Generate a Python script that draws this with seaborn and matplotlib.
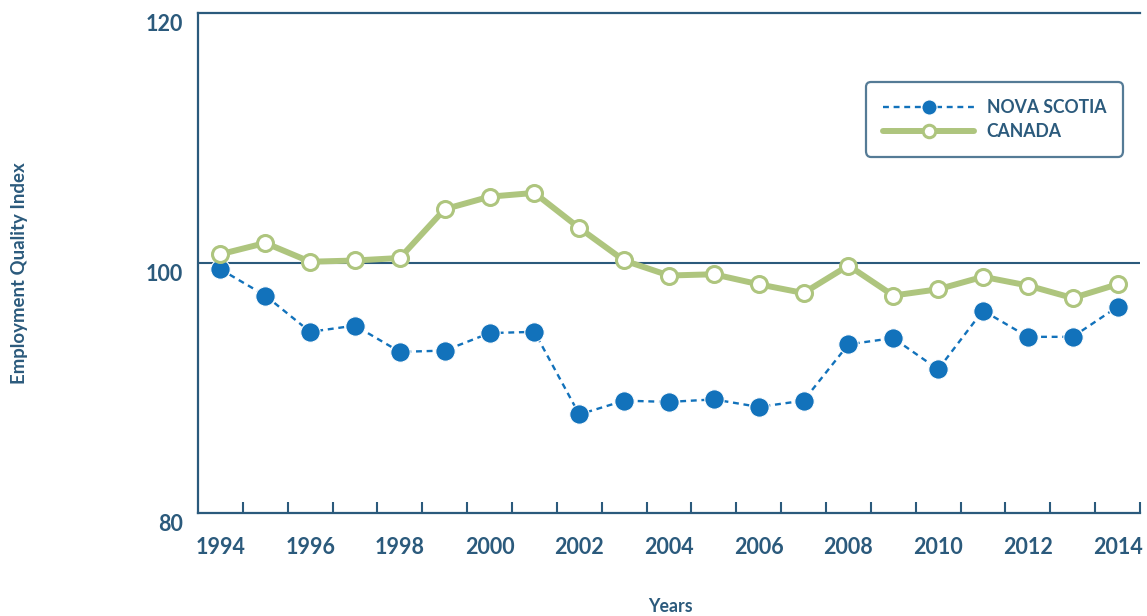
import matplotlib
matplotlib.use("Agg")
import matplotlib.pyplot as plt
from matplotlib.transforms import ScaledTranslation
import seaborn as sns
import pandas as pd

years = list(range(1994, 2015))
nova_scotia = [99.5, 97.4, 94.5, 95.0, 92.9, 93.0, 94.4, 94.5, 87.9, 89.0,
               88.9, 89.1, 88.5, 89.0, 93.5, 94.0, 91.5, 96.2, 94.1, 94.1, 96.5]
canada = [100.7, 101.6, 100.1, 100.2, 100.4, 104.3, 105.3, 105.6, 102.8, 100.2,
          99.0, 99.1, 98.3, 97.6, 99.8, 97.4, 97.9, 98.9, 98.2, 97.2, 98.3]
series_names = ["NOVA SCOTIA", "CANADA"]
y_ticks = [80, 100, 120]
x_ticks = list(range(1994, 2015, 2))
x_label = "Years"
y_label = "Employment Quality Index"

NAVY = "#2b5a7c"
BLUE = "#1272bb"
GREEN = "#aec57e"

sns.set_style("white")
plt.rcParams["font.family"] = ["Lato", "DejaVu Sans"]
plt.rcParams["font.weight"] = "bold"

df = pd.DataFrame({"year": years, "ns": nova_scotia, "ca": canada})

fig = plt.figure(figsize=(11.47, 6.16), dpi=100)
ax = fig.add_axes([198 / 1147, 1 - 513.3 / 616, (1140 - 198) / 1147, (513.3 - 12.7) / 616])

ax.axhline(100, color=NAVY, lw=1.5, zorder=1.5)

sns.lineplot(data=df, x="year", y="ns", ax=ax, color=BLUE, lw=1.7,
             linestyle="--", marker="o", markersize=14, markerfacecolor=BLUE,
             markeredgecolor="white", markeredgewidth=0.8, label=series_names[0],
             zorder=3)
sns.lineplot(data=df, x="year", y="ca", ax=ax, color=GREEN, lw=4.3,
             marker="o", markersize=11.5, markerfacecolor="white",
             markeredgecolor=GREEN, markeredgewidth=2.2, label=series_names[1],
             zorder=4)
ax.lines[1].set_dashes((2.5, 2))

ax.set_xlim(1993.5, 2014.5)
ax.set_ylim(80, 120)

for side in ["left", "top", "bottom"]:
    ax.spines[side].set_visible(True)
    ax.spines[side].set_color(NAVY)
    ax.spines[side].set_linewidth(1.6)
ax.spines["right"].set_visible(False)

ax.set_xticks(x_ticks)
ax.set_xticklabels([str(y) for y in x_ticks])
ax.set_xticks([y + 0.5 for y in years], minor=True)
ax.set_yticks(y_ticks)
ax.set_yticklabels([str(v) for v in y_ticks])
ax.set_yticks([80], minor=True)

ax.tick_params(axis="x", which="major", length=0, pad=17, labelsize=15.5,
               labelcolor=NAVY)
ax.tick_params(axis="x", which="minor", direction="in", length=8, width=1.5,
               color=NAVY, bottom=True)
ax.tick_params(axis="y", which="major", length=0, pad=11, labelsize=15.5,
               labelcolor=NAVY)
ax.tick_params(axis="y", which="minor", direction="in", length=17, width=2.2,
               color=NAVY, left=True)

off = ScaledTranslation(0, -9.5 / 100, fig.dpi_scale_trans)
for lab in ax.get_yticklabels():
    lab.set_transform(lab.get_transform() + off)

ax.set_xlabel("")
ax.set_ylabel("")
fig.text(670 / 1147, 1 - 606 / 616, x_label, ha="center", va="center",
         fontsize=12.8, color=NAVY, fontweight="bold")
fig.text(19.5 / 1147, 1 - 273 / 616, y_label, ha="center", va="center",
         rotation=90, fontsize=13.4, color=NAVY, fontweight="bold")

leg = ax.legend(loc="upper left", bbox_to_anchor=(866 / 1147, 1 - 82 / 616),
                bbox_transform=fig.transFigure, frameon=True, fancybox=True,
                fontsize=12.7, handlelength=5.2, handletextpad=0.7,
                labelspacing=0.4, borderpad=0.95, markerscale=0.78,
                borderaxespad=0)
frame = leg.get_frame()
frame.set_edgecolor(NAVY)
frame.set_linewidth(1.6)
frame.set_boxstyle("round,pad=0,rounding_size=0.3")
for t in leg.get_texts():
    t.set_color(NAVY)

fig.savefig("out.png", dpi=100, facecolor="white")
